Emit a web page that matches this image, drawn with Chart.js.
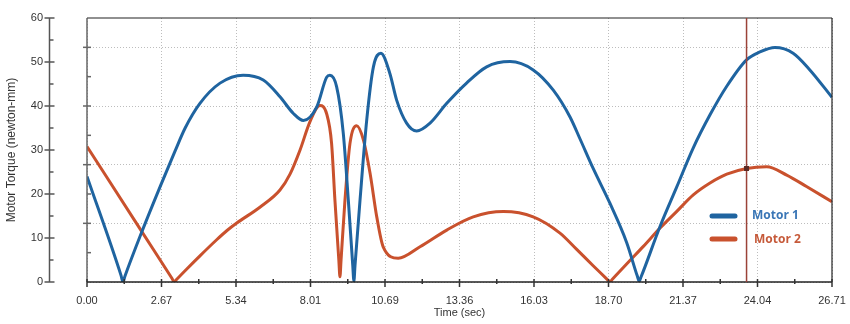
<!DOCTYPE html>
<html>
<head>
<meta charset="utf-8">
<title>Motor Torque</title>
<script src="https://cdn.jsdelivr.net/npm/chart.js@4"></script>
<style>
  html, body { margin: 0; padding: 0; background: #fff; }
  #wrap { width: 850px; height: 324px; }
</style>
</head>
<body>
<div id="wrap"><canvas id="torque"></canvas></div>
<script>
// --- data ---
const xMax = 26.714;
const xTickLabels = ['0.00', '2.67', '5.34', '8.01', '10.69', '13.36', '16.03', '18.70', '21.37', '24.04', '26.71'];
const yTickValues = [0, 10, 20, 30, 40, 50, 60];
const yGridStep = 40 / 3;

const motor1Time = [0, 1.22, 1.29, 1.36, 1.91, 2.63, 3.16, 3.52, 4.05, 4.77, 5.60, 6.32, 6.92, 7.40,
  7.76, 8.24, 8.59, 8.71, 8.95, 9.19, 9.37, 9.53, 9.57, 9.61, 9.79, 10.03, 10.27, 10.54, 10.86,
  11.10, 11.46, 11.82, 12.30, 12.90, 13.61, 14.33, 15.17, 16.00, 16.72, 17.32, 17.68, 18.15,
  18.75, 19.35, 19.73, 19.80, 19.87, 20.54, 21.14, 21.74, 22.34, 22.94, 23.65, 24.13, 24.67,
  25.32, 25.92, 26.71];
const motor1Torque = [24.0, 1.5, 0, 1.3, 10.5, 21.8, 29.8, 35.0, 40.6, 45.2, 47.0, 45.9, 42.1, 38.3,
  36.7, 39.8, 46.5, 47.0, 44.4, 33.8, 18.6, 3.7, 0.2, 3.7, 18.6, 36.8, 48.9, 52.0, 47.4,
  41.4, 36.1, 34.3, 36.1, 40.6, 45.2, 48.9, 50.1, 48.2, 43.6, 37.5, 32.5, 25.8,
  17.9, 9.0, 1.4, 0.2, 1.2, 12.5, 21.5, 30.5, 38.0, 44.5, 50.5, 52.3, 53.3,
  52.0, 48.2, 42.0];

const motor2Time = [0, 1.96, 3.05, 3.13, 3.21, 3.57, 4.06, 4.65, 5.02, 5.37, 6.20, 6.92, 7.28, 7.64,
  8.00, 8.35, 8.59, 8.77, 8.89, 9.03, 9.07, 9.11, 9.25, 9.43, 9.67, 9.91, 10.15, 10.39, 10.62,
  11.16, 11.94, 12.90, 13.85, 14.93, 16.00, 16.96, 17.56, 18.15, 18.67, 18.75, 18.83, 19.35,
  19.95, 20.54, 21.14, 21.74, 22.34, 22.94, 23.65, 24.37, 25.09, 25.80, 26.71];
const motor2Torque = [30.8, 11.5, 0.8, 0, 0.55, 2.9, 6.0, 9.6, 11.7, 13.4, 17.0, 20.9, 24.5, 30.0,
  36.5, 40.1, 38.3, 31.5, 18.6, 5.0, 1.2, 5.0, 18.6, 31.5, 35.5, 32.3, 24.7, 14.8, 8.0,
  5.4, 8.0, 11.8, 14.8, 16.0, 14.8, 11.1, 7.4, 3.7, 0.5, 0, 0.55, 4.1,
  8.1, 12.2, 16.0, 19.8, 22.5, 24.5, 25.8, 26.2, 24.3, 21.7, 18.25];

const cursorTime = 23.65;
const cursorTorque = 25.8;

const seriesNames = ['Motor 1', 'Motor 2'];
const seriesColors = ['#1f64a0', '#c9512d'];
const legendTextColors = ['#3a76b6', '#c65a3a'];

const xStep = xMax / (xTickLabels.length - 1);
const toPoints = (ts, vs) => ts.map((t, i) => ({ x: t, y: vs[i] }));

// axis lines, ticks, frame, cursor and legend in the style of the original
const chartFrame = {
  id: 'chartFrame',
  afterDraw(chart) {
    const { ctx, chartArea: a, scales: { x, y } } = chart;
    const line = (x1, y1, x2, y2, color, w) => {
      ctx.strokeStyle = color;
      ctx.lineWidth = w;
      ctx.beginPath();
      ctx.moveTo(x1, y1);
      ctx.lineTo(x2, y2);
      ctx.stroke();
    };
    ctx.save();

    // detached value axis on the left
    const ax = Math.round(a.left - 38) + 0.5;
    line(ax, y.getPixelForValue(60), ax, y.getPixelForValue(0), '#555', 1.5);
    for (let v = 0; v <= 60; v += 5) {
      const py = y.getPixelForValue(v);
      if (v % 10 === 0) line(ax - 5, py, ax + 5, py, '#555', 1.5);
      else line(ax, py, ax + 4, py, '#555', 1.5);
    }

    // plot frame
    line(a.left, a.top, a.right, a.top, '#222', 1.2);
    line(a.right, a.top, a.right, a.bottom, '#222', 1.2);
    line(a.left, a.top, a.left, a.bottom, '#666', 1.5);
    for (let k = 1; k < 9; k++) {
      const py = y.getPixelForValue(k * yGridStep / 2);
      if (k % 2 === 0) line(a.left - 4, py, a.left + 4, py, '#666', 1.5);
      else line(a.left, py, a.left + 4, py, '#666', 1.5);
    }
    line(a.left, a.bottom, a.right, a.bottom, '#222', 1.5);
    for (let i = 0; i < xTickLabels.length; i++) {
      const px = x.getPixelForValue(i * xStep);
      line(px, a.bottom - 3, px, a.bottom + 5, '#333', 1.5);
      if (i < xTickLabels.length - 1) {
        const mx = x.getPixelForValue((i + 0.5) * xStep);
        line(mx, a.bottom - 3, mx, a.bottom + 2, '#333', 1.5);
      }
    }

    // cursor
    const cx = x.getPixelForValue(cursorTime);
    line(cx, a.top, cx, a.bottom, '#9b4238', 1.5);
    const cy = y.getPixelForValue(cursorTorque);
    ctx.fillStyle = '#5a2a25';
    ctx.fillRect(cx - 2.5, cy - 2.5, 5, 5);

    // legend
    ctx.lineCap = 'round';
    ctx.textBaseline = 'middle';
    ctx.font = 'bold 12px "Open Sans", sans-serif';
    seriesNames.forEach((name, i) => {
      const ly = a.bottom - 66 + i * 23;
      line(a.right - 120, ly, a.right - 97, ly, seriesColors[i], 5);
      ctx.fillStyle = legendTextColors[i];
      ctx.fillText(name, a.right - 80 + i * 2, ly + i);
    });
    ctx.restore();
  }
};

const baseFont = { family: '"Liberation Sans", Arial, sans-serif', size: 11 };

// tick padding is only used to push labels away from the axis, not to shrink the plot
const dropPadding = s => { s.paddingTop = 0; s.paddingBottom = 0; s.paddingLeft = 0; s.paddingRight = 0; };

new Chart(document.getElementById('torque'), {
  type: 'line',
  data: {
    datasets: [
      { label: seriesNames[0], data: toPoints(motor1Time, motor1Torque), borderColor: seriesColors[0] },
      { label: seriesNames[1], data: toPoints(motor2Time, motor2Torque), borderColor: seriesColors[1] },
    ],
  },
  options: {
    responsive: true,
    maintainAspectRatio: false,
    animation: false,
    layout: { padding: { top: 18, right: 18, left: 0, bottom: 0 } },
    elements: {
      line: { borderWidth: 3, cubicInterpolationMode: 'monotone', fill: false },
      point: { radius: 0, hoverRadius: 0 },
    },
    plugins: { legend: { display: false }, tooltip: { enabled: false } },
    scales: {
      x: {
        type: 'linear',
        min: 0,
        max: xMax,
        afterBuildTicks: s => { s.ticks = xTickLabels.map((_, i) => ({ value: i * xStep })); },
        afterFit: s => { s.height = 42; dropPadding(s); },
        ticks: {
          callback: (v, i) => xTickLabels[i],
          autoSkip: false,
          maxRotation: 0,
          padding: 12,
          color: '#333',
          font: baseFont,
        },
        grid: { color: '#bdbdbd', drawTicks: false },
        border: { display: false, dash: [1, 2] },
        title: { display: true, text: 'Time (sec)', color: '#333', font: baseFont, padding: { top: 4, bottom: 4 } },
      },
      y: {
        min: 0,
        max: 60,
        position: 'left',
        afterBuildTicks: s => { s.ticks = yTickValues.map(v => ({ value: v })); },
        afterFit: s => { s.width = 87; dropPadding(s); },
        ticks: { padding: 44, color: '#333', font: baseFont },
        grid: { drawOnChartArea: false, drawTicks: false },
        border: { display: false },
        title: {
          display: true,
          text: 'Motor Torque (newton-mm)',
          color: '#333',
          font: { family: baseFont.family, size: 12 },
          padding: { top: 4, bottom: 4 },
        },
      },
      yg: {
        min: 0,
        max: 60,
        position: 'left',
        afterBuildTicks: s => { s.ticks = [0, 1, 2, 3, 4].map(i => ({ value: i * yGridStep })); },
        afterFit: s => { s.width = 0; dropPadding(s); },
        ticks: { display: false },
        grid: { color: '#bdbdbd', drawTicks: false },
        border: { display: false, dash: [1, 2] },
      },
    },
  },
  plugins: [chartFrame],
});
</script>
</body>
</html>
